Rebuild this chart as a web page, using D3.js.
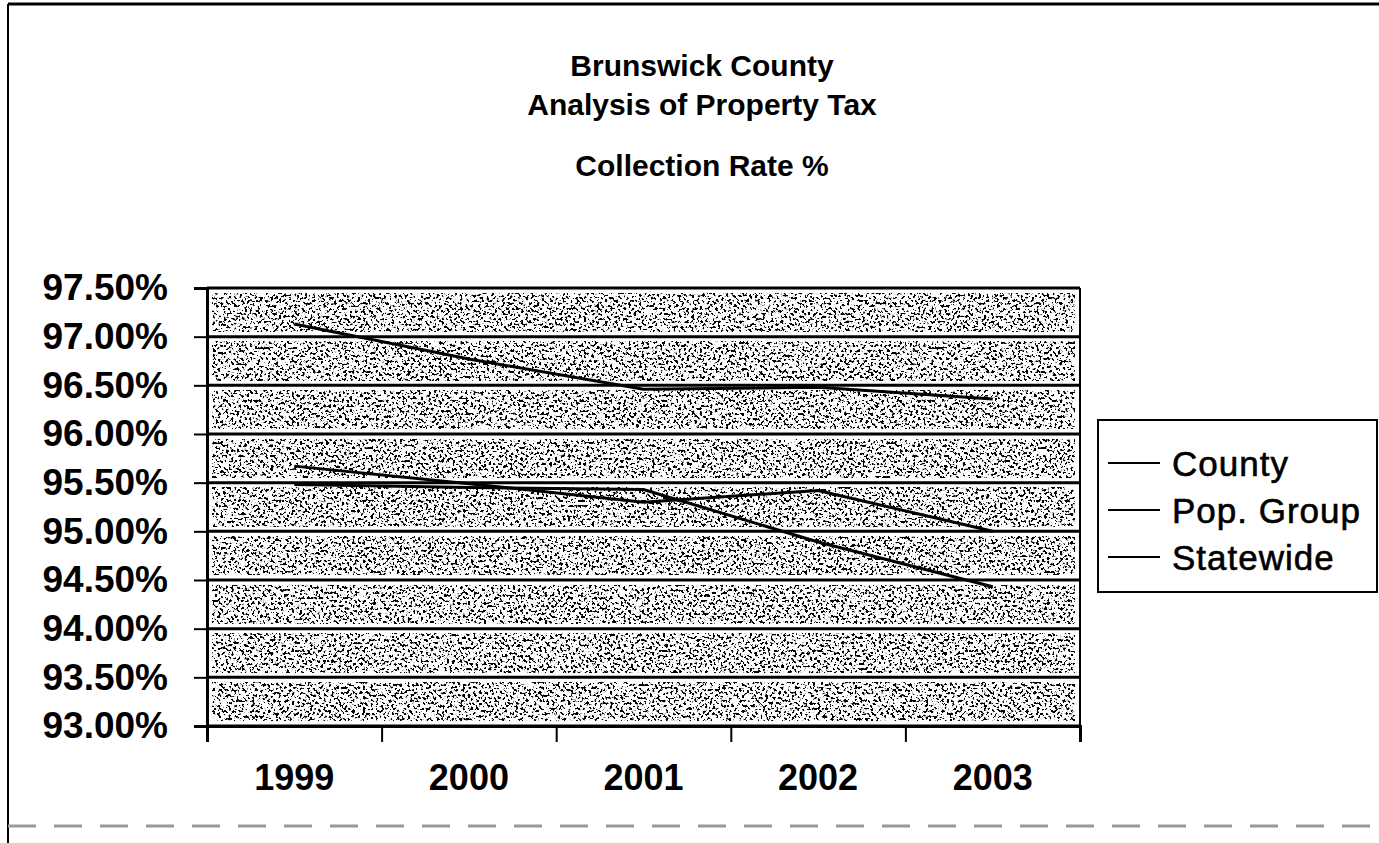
<!DOCTYPE html>
<html>
<head>
<meta charset="utf-8">
<script src="https://cdn.jsdelivr.net/npm/d3@7"></script>
<style>
  html, body { margin: 0; padding: 0; background: #fff; }
  svg { display: block; }
  text { font-family: Arial, "Liberation Sans", Helvetica, sans-serif; fill: #000; }
</style>
</head>
<body>
<svg id="chart" width="1379" height="843"></svg>
<script>
// ---- data ----
const titleLines = ["Brunswick County", "Analysis of Property Tax", "Collection Rate %"];
const categories = ["1999", "2000", "2001", "2002", "2003"];
const seriesNames = ["County", "Pop. Group", "Statewide"];
const countyValues = [95.48, 95.45, 95.43, 94.89, 94.43];
const popGroupValues = [95.67, 95.49, 95.30, 95.42, 95.00];
const statewideValues = [97.13, 96.77, 96.46, 96.48, 96.36];
const yTickValues = [93.0, 93.5, 94.0, 94.5, 95.0, 95.5, 96.0, 96.5, 97.0, 97.5];

const series = [
  { name: seriesNames[0], values: countyValues },
  { name: seriesNames[1], values: popGroupValues },
  { name: seriesNames[2], values: statewideValues }
];

const svg = d3.select("#chart");
const W = 1379, H = 843;
const plot = { left: 207, right: 1080, top: 288, bottom: 726 };

// speckle texture filter (decorative, mimics the stippled fill)
const defs = svg.append("defs");
const f = defs.append("filter").attr("id", "speckle")
  .attr("x", 0).attr("y", 0).attr("width", "100%").attr("height", "100%");
f.append("feTurbulence").attr("type", "fractalNoise").attr("baseFrequency", 0.38)
  .attr("numOctaves", 2).attr("seed", 7).attr("result", "noise");
f.append("feColorMatrix").attr("in", "noise").attr("type", "matrix")
  .attr("values", "0 0 0 0 0  0 0 0 0 0  0 0 0 0 0  -16 0 0 0 7.4").attr("result", "dots");
f.append("feFlood").attr("flood-color", "#ffffff").attr("result", "white");
f.append("feComposite").attr("in", "dots").attr("in2", "white").attr("operator", "over");

// outer frame (scan border)
svg.append("line").attr("x1", 8).attr("x2", 8).attr("y1", 4).attr("y2", H)
  .attr("stroke", "#000").attr("stroke-width", 2);
svg.append("line").attr("x1", 8).attr("x2", W).attr("y1", 4).attr("y2", 4)
  .attr("stroke", "#000").attr("stroke-width", 3);
svg.append("line").attr("x1", 8).attr("x2", W).attr("y1", 826).attr("y2", 826)
  .attr("stroke", "#9a9a9a").attr("stroke-width", 3).attr("stroke-dasharray", "28 18");

// title
const titleY = [65, 104, 165];
svg.selectAll("text.title").data(titleLines).join("text")
  .attr("class", "title")
  .attr("x", 702).attr("y", (d, i) => titleY[i])
  .attr("text-anchor", "middle").attr("dominant-baseline", "central")
  .attr("font-size", 30).attr("font-weight", "bold")
  .text(d => d);

// scales
const y = d3.scaleLinear().domain([93, 97.5]).range([plot.bottom, plot.top]);
const xBand = d3.scaleBand().domain(categories).range([plot.left, plot.right]);
const xIdx = d3.scaleLinear().domain([0, categories.length]).range([plot.left, plot.right]);
const xc = d => xBand(d) + xBand.bandwidth() / 2;

// speckled bands between gridlines
const bandPairs = d3.pairs(yTickValues);
const inset = 5;
svg.append("g").selectAll("rect").data(bandPairs).join("rect")
  .attr("x", plot.left + inset)
  .attr("y", d => y(d[1]) + inset)
  .attr("width", plot.right - plot.left - 2 * inset)
  .attr("height", d => y(d[0]) - y(d[1]) - 2 * inset)
  .attr("fill", "#fff")
  .attr("filter", "url(#speckle)");

// gridlines
svg.append("g").selectAll("line").data(yTickValues).join("line")
  .attr("x1", plot.left).attr("x2", plot.right)
  .attr("y1", d => y(d)).attr("y2", d => y(d))
  .attr("stroke", "#000").attr("stroke-width", 3);

// plot right border
svg.append("line").attr("x1", plot.right).attr("x2", plot.right)
  .attr("y1", plot.top).attr("y2", plot.bottom)
  .attr("stroke", "#000").attr("stroke-width", 2);

// series lines
const line = d3.line().x((d, i) => xc(categories[i])).y(d => y(d));
svg.append("g").selectAll("path").data(series).join("path")
  .attr("d", d => line(d.values))
  .attr("fill", "none").attr("stroke", "#000").attr("stroke-width", 3);

// y axis
const yAxis = svg.append("g").attr("transform", `translate(${plot.left},0)`)
  .call(d3.axisLeft(y).tickValues(yTickValues).tickSize(13).tickPadding(26)
    .tickFormat(d => d.toFixed(2) + "%"));
yAxis.select(".domain").attr("stroke", "#000").attr("stroke-width", 3);
yAxis.selectAll(".tick line").attr("stroke", "#000").attr("stroke-width", 2);
yAxis.selectAll(".tick text").attr("font-size", 37).attr("font-weight", "bold")
  .attr("font-family", "Arial, 'Liberation Sans', sans-serif");

// x axis ticks at category boundaries
const xTicks = svg.append("g").attr("transform", `translate(0,${plot.bottom})`)
  .call(d3.axisBottom(xIdx).tickValues(d3.range(categories.length + 1)).tickSize(16).tickFormat(""));
xTicks.select(".domain").attr("stroke", "#000").attr("stroke-width", 3);
xTicks.selectAll(".tick line").attr("stroke", "#000").attr("stroke-width", 2);

// x labels
const xLab = svg.append("g").attr("transform", `translate(0,${plot.bottom})`)
  .call(d3.axisBottom(xBand).tickSize(0).tickPadding(38));
xLab.select(".domain").remove();
xLab.selectAll(".tick text").attr("font-size", 36).attr("font-weight", "bold")
  .attr("font-family", "Arial, 'Liberation Sans', sans-serif");

// legend
const leg = svg.append("g").attr("transform", "translate(1098,420)");
leg.append("rect").attr("width", 279).attr("height", 172)
  .attr("fill", "#fff").attr("stroke", "#000").attr("stroke-width", 2);
const li = leg.selectAll("g.item").data(series).join("g").attr("class", "item")
  .attr("transform", (d, i) => `translate(0,${43 + i * 47})`);
li.append("line").attr("x1", 10).attr("x2", 62).attr("y1", 0).attr("y2", 0)
  .attr("stroke", "#000").attr("stroke-width", 2);
li.append("text").attr("x", 74).attr("y", 0).attr("dominant-baseline", "central")
  .attr("font-size", 35).attr("letter-spacing", 1)
  .attr("stroke", "#000").attr("stroke-width", 0.6)
  .text(d => d.name);
</script>
</body>
</html>
